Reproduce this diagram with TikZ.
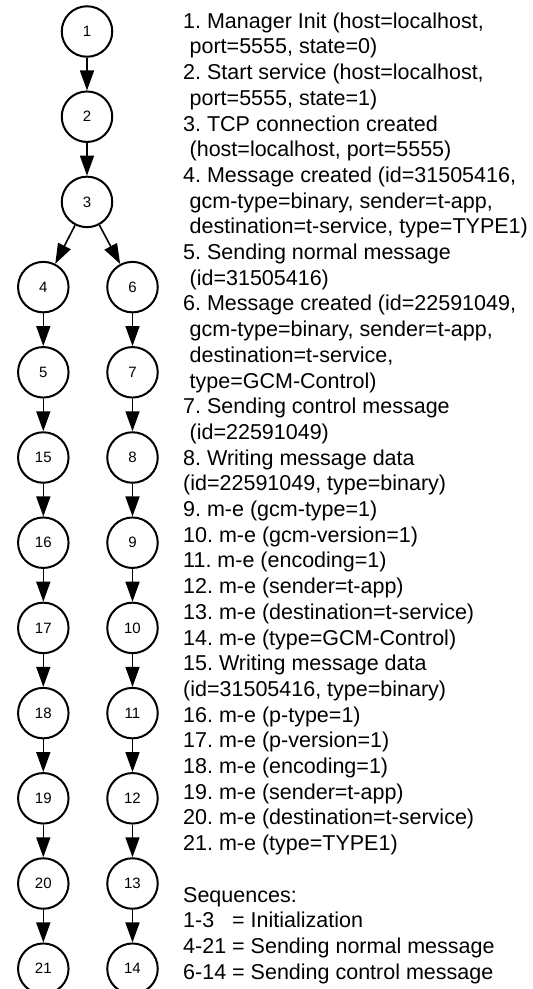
\documentclass[tikz,border=0pt]{standalone}
\usepackage{fontspec}
\setmainfont{Liberation Sans}
\usetikzlibrary{arrows.meta}
\frenchspacing
\newcommand\padl{\hspace*{.3em}}
\tikzset{
  state/.style={circle, draw, line width=2pt, minimum size=50.5pt, inner sep=0pt,
    font=\fontsize{15pt}{18pt}\selectfont},
  flow/.style={line width=1.6pt, -{Triangle[length=20pt, width=14pt]}},
  legend/.style={anchor=north west, inner sep=0pt, align=left,
    font=\fontsize{21.5pt}{25.7pt}\selectfont}
}
\begin{document}
\begin{tikzpicture}[x=1pt, y=-1pt]
\useasboundingbox (0,0) rectangle (533,989);
% initialization chain
\node[state] (n1) at (87,31.5) {1};
\node[state] (n2) at (87,116.7) {2};
\node[state] (n3) at (87,201.9) {3};
% normal message branch
\foreach \lab [count=\r from 3] in {4,5,15,16,17,18,19,20,21}
  \node[state] (n\lab) at (43.3,31.5+85.2*\r) {\lab};
% control message branch
\foreach \lab [count=\r from 3] in {6,7,8,9,10,11,12,13,14}
  \node[state] (n\lab) at (132.5,31.5+85.2*\r) {\lab};
% connectors
\draw[flow] (n1) -- (n2);
\draw[flow] (n2) -- (n3);
\draw[flow] (n3) -- (n4);
\draw[flow] (n3) -- (n6);
\foreach \a/\b in {4/5,5/15,15/16,16/17,17/18,18/19,19/20,20/21,
                   6/7,7/8,8/9,9/10,10/11,11/12,12/13,13/14}
  \draw[flow] (n\a) -- (n\b);
% event list
\node[legend] (events) at (183,12.5) {%
1. Manager Init (host=localhost,\\
\padl port=5555, state=0)\\
2. Start service (host=localhost,\\
\padl port=5555, state=1)\\
3. TCP connection created\\
\padl (host=localhost, port=5555)\\
4. Message created (id=31505416,\\
\padl gcm-type=binary, sender=t-app,\\
\padl destination=t-service, type=TYPE1)\\
5. Sending normal message\\
\padl (id=31505416)\\
6. Message created (id=22591049,\\
\padl gcm-type=binary, sender=t-app,\\
\padl destination=t-service,\\
\padl type=GCM-Control)\\
7. Sending control message\\
\padl (id=22591049)\\
8. Writing message data\\
(id=22591049, type=binary)\\
9. m-e (gcm-type=1)\\
10. m-e (gcm-version=1)\\
11. m-e (encoding=1)\\
12. m-e (sender=t-app)\\
13. m-e (destination=t-service)\\
14. m-e (type=GCM-Control)\\
15. Writing message data\\
(id=31505416, type=binary)\\
16. m-e (p-type=1)\\
17. m-e (p-version=1)\\
18. m-e (encoding=1)\\
19. m-e (sender=t-app)\\
20. m-e (destination=t-service)\\
21. m-e (type=TYPE1)\\[25.7pt]
Sequences:\\
1-3\hphantom{0} = Initialization\\
4-21 = Sending normal message\\
6-14 = Sending control message};
\end{tikzpicture}
\end{document}
